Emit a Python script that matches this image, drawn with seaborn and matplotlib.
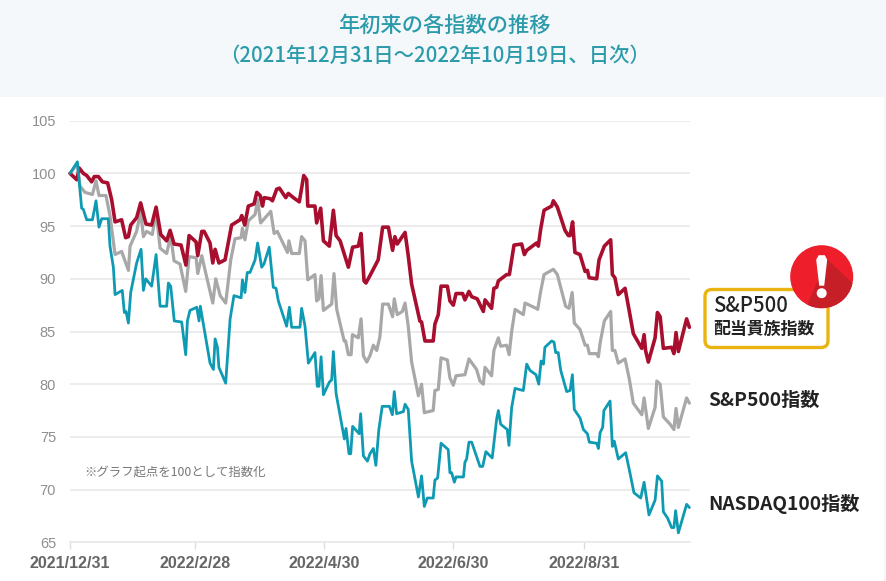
import matplotlib
matplotlib.use("Agg")
import matplotlib.pyplot as plt
import pandas as pd
import seaborn as sns
from matplotlib.patches import Circle, FancyBboxPatch, Polygon, Rectangle
from matplotlib.transforms import IdentityTransform

# calendar days since 2021/12/31, index values
red_days = [0,3.2,4.4,6.3,7.9,10.2,11.5,13.4,15.3,17.8,19.7,21.3,24.4,26.3,27.6,28.7,31.5,33.4,35.9,38.6,40.7,42.9,45.7,47.3,49.2,52.5,54.8,56.3,59.6,60.4,62.3,63.4,66.2,67.5,68.6,70.4,73.3,76.4,80.4,81.2,82.6,84.3,87,88.3,89.9,91,91.8,94.6,95.7,97.7,99,102,103.2,105.6,108.4,110.5,111.9,112.4,115.8,116.6,118.5,119.8,122.6,124.5,125.8,127.7,131.6,133.6,136.3,137.6,139,139.9,141.8,145.7,147.8,150.5,152.5,153.6,154.7,158.4,159.9,161.5,165.4,166.2,167.8,171.7,172.5,174.1,175.4,178.4,179.6,181.2,182.5,185.6,186.7,188.6,189.9,192.5,195.4,196.2,199.3,200.4,201.7,202.5,206.4,207.7,209.9,213.5,214.8,215.9,220.6,221.4,222.5,224.1,227.7,228.5,230.4,234,235.6,236.4,237.6,238.7,241.1,243.5,244.6,245.4,249,250.1,252.6,255.6,256.4,257.6,259.2,262.4,264.7,266.3,270.3,271.4,272.1,273.4,276.6,277.7,279,280.5,284.4,285.5,286.5,287.6,291.5,292.8]
red_vals = [100,99.4,100.5,100,99.8,99.2,99.7,99.7,99.2,99.1,97.5,95.4,95.6,93.9,94,95.1,95.8,97.2,95.2,95.1,96.8,94.2,93.6,94.6,93.3,93.2,91.3,94.1,93.5,92.2,94.5,94.5,93.4,91.5,92.8,91.5,91.8,95.1,95.6,96,95.1,96.9,97.1,98.2,97.9,96.9,97.7,97.6,97.4,98.5,98.6,97.7,98.1,97.7,97.3,99.8,99.4,96.9,96.9,95.3,96.7,93.6,93.1,96.5,94.1,93.6,91.1,93,93.1,94.3,89.8,89.6,90.3,91.8,94.9,94.9,92.7,94,93.3,94.4,92.2,89.5,86,85.9,84.1,84.1,85.7,86.6,89.3,89.3,87.9,87.5,88.6,88.6,88,88.8,88.3,88.1,86.9,88,87.2,89.1,89.2,89.8,90.4,90.4,93.2,93.3,92.3,92.7,93.4,93.1,94.7,96.5,96.9,97.4,96.8,94.6,94.1,94.1,95.4,92.5,92.3,90.7,90.8,90.1,90,91.8,93.1,93.7,90.4,90.1,88.5,89.1,86.6,84.8,83.4,84.7,83.2,82.1,84.4,86.8,86.4,83.4,83.5,82.9,84.9,83.1,86.2,85.4]

gray_days = [0,3.5,4.7,7.1,10.6,12.3,13.7,17,18.9,21.3,24.4,27.6,28.4,31.5,33.4,34.7,36.2,38.9,40.7,42.6,45.7,47.6,49.2,52,54.7,56.3,59.6,60.4,62.3,64.1,67.5,68.9,71,73.6,76,78,80.9,81.5,82.7,84.3,87.5,88.7,90.1,94.9,96.5,98,102.8,103.5,104.8,108.4,109.5,111.1,112.4,115.8,116.6,117.7,118.7,119.8,123.7,124.8,126.1,129.6,130.3,131.6,132.9,133.5,136.3,137.6,138.7,140.3,141.8,143.4,145,146.5,147.8,150.5,152.5,153.3,154.7,157.1,158.4,159.9,161.5,164.7,166.2,167.5,171.7,172.5,174.1,175.4,178.4,179.6,181.2,182.5,186.7,188.6,192.2,193.8,195.4,196.2,199.3,200.4,202.5,203.6,206.4,207.6,208.8,210.4,214.3,215.1,220.3,221.1,222.5,224.1,228.5,230.4,234.3,235.9,237.4,238.4,241.1,243.5,244.6,245.5,249,249.8,250.6,252.6,255.6,256.4,257.6,259.2,262.4,264.4,266.3,270.3,271.4,273.4,276.6,277.4,279,280.5,283.7,285.5,286.5,287.6,291.5,292.8]
gray_vals = [100,100.9,98.8,98.2,98,99.3,97.9,97.9,96,92.3,92.6,90.8,93.1,94.5,96.4,94,94.5,94.2,96.4,92.9,92.4,94.1,91.7,91.4,88.8,92.1,92,90.5,92.2,90.6,87.7,90,88.4,87.7,91.8,93.8,93.9,94.8,93.7,95.5,96.1,97.5,95.3,96.4,94.3,94.5,92.5,93.6,92.4,92.4,94,93.6,89.9,90.4,87.9,88.1,90.3,87,87.6,90.5,87.1,84.1,84.1,82.8,82.8,84.7,84.4,86.2,82.7,82.1,82.7,83.7,83.2,84.5,87.6,87.6,86.4,88.1,86.6,86.9,87.7,85.5,82.1,78.9,80,77.3,77.5,79.4,79.5,82.5,82.3,80.6,79.9,80.8,80.9,82.4,81.4,80.3,80,81.6,80.8,83.2,84.4,83.6,83.7,82.8,85,87.1,86.6,87.7,87.2,87.1,88.8,90.4,90.9,90.4,87.4,87.2,88.7,85.8,85.2,83.7,83.7,82.9,82.9,82.6,83.9,86,86.9,83.2,83.2,82,82.4,80.5,78.2,77.1,78.7,75.8,77.8,80.3,80,76.9,76.2,75.7,77.7,75.9,78.7,78.2]

teal_days = [0,3.5,5.5,6.3,7.9,10.6,12.3,13.7,15,18.1,18.9,20.5,21.3,24.7,25.7,26.5,27.6,28.7,31.5,33.6,34.7,35.8,38.6,40.7,42.6,45.7,46.5,47.6,49.3,52.8,54.7,55.5,56.7,59.9,61,61.6,66.2,67.8,68.6,69.7,70.4,73.6,75.7,77.5,80.9,81.5,82.7,83.8,85.1,87.5,88.7,90.6,91.7,94.2,96.1,97.4,98.5,102.4,103.7,104.8,108.7,109.5,111.1,112.7,115.8,116.9,117.7,118.7,119.8,122.6,123.7,124.5,125.8,129.7,130.5,131.9,132.7,133.6,136.7,137.4,138.7,140.6,141.8,143.4,144.6,146,147.6,151,152.4,153.3,154.4,157.6,158.4,159.9,161.5,164.7,166.2,167.5,168.9,171.7,172.5,173.8,175.4,178.8,179.6,180.4,181.7,182.5,186,186.7,187.5,188.6,189.9,193.8,195.1,196.6,199.6,201.7,202.5,203.6,206.7,207.5,208.8,210.4,214.3,215.9,217.5,220.3,221.6,222.7,223.8,224.5,227.7,228.8,229.6,230.8,232,234.8,236.4,237.5,238.4,241.1,242.7,244.6,245.5,249,249.8,250.6,251.8,252.4,255.3,256.4,257.3,259.2,262.7,264.7,266.6,269.8,271.4,273.7,276.6,277.7,279.7,280.5,282.5,284.4,285.5,286.3,287.6,291.5,292.8]
teal_vals = [100,101.1,96.7,96.6,95.6,95.6,97.4,94.9,95.7,95.7,93.1,91.1,88.5,88.9,86.8,86.9,85.8,88.7,91.5,92.8,88.9,90,89.3,92.3,87.4,87.4,89.6,89.3,86,85.9,82.8,86,87,87.3,86,87.4,82,81.4,84.3,83.5,81.6,80.1,86.2,88.4,88.2,89.9,88.7,90.6,90.6,91.8,93.4,91.1,91.4,93,89.2,89.1,87.9,85.5,87.3,85.4,85.4,87.2,85.5,82,83,79.8,79.8,82.6,79,80.2,80.4,83.1,79.1,74.8,75.8,73.4,73.4,76,75.3,77.2,73.2,72.7,73.4,73.9,72.3,75.7,77.9,77.9,77.1,79.3,77.2,77.4,78.1,77.6,72.7,69.3,71.3,68.4,69.2,69.2,70.9,71.1,74.4,73.8,71.6,71.6,70.7,71.2,71.2,72.6,72.9,74.5,74.5,72.2,72.2,73.6,73,76.7,77.5,76.2,75.7,74.2,77.8,79.6,79.4,81.9,81.3,80.9,80,82.2,81.9,83.5,84.1,84,83,83,81.3,79.3,79.4,80.9,77.6,76.8,75.7,75.3,74.5,74.4,73.9,75.4,75.9,77.5,78.4,74.1,74.6,72.9,73.5,71.6,69.7,69.2,70.7,67.6,69,71.3,70.8,67.9,67.3,66.4,66.4,68,65.9,68.6,68.3]

tick_days = [0, 59, 120, 181, 243]
tick_labels = ["2021/12/31", "2022/2/28", "2022/4/30", "2022/6/30", "2022/8/31"]
y_ticks = [65, 70, 75, 80, 85, 90, 95, 100, 105]
title_lines = ["年初来の各指数の推移", "（2021年12月31日～2022年10月19日、日次）"]
note = "※グラフ起点を100として指数化"
series_names = ["S&P500指数", "S&P500配当貴族指数", "NASDAQ100指数"]

W, H = 886, 581
sns.set_theme(style="white")
plt.rcParams["font.family"] = ["Noto Sans CJK JP", "DejaVu Sans"]
fig = plt.figure(figsize=(W / 100, H / 100), dpi=100, facecolor="white")
ax = fig.add_axes([70 / W, 1 - 542.3 / H, 620 / W, 421.6 / H])

df = pd.concat([
    pd.DataFrame({"day": gray_days, "value": gray_vals, "series": series_names[0]}),
    pd.DataFrame({"day": red_days, "value": red_vals, "series": series_names[1]}),
    pd.DataFrame({"day": teal_days, "value": teal_vals, "series": series_names[2]}),
])
palette = {series_names[2]: "#0f9ab4", series_names[0]: "#a8a8a8", series_names[1]: "#a80f2e"}
widths = {series_names[2]: 2.0, series_names[0]: 2.3, series_names[1]: 2.6}

ax.set_axisbelow(True)
ax.grid(axis="y", color="#e9e9e9", lw=1.2)
for name in series_names:
    sns.lineplot(data=df[df.series == name], x="day", y="value", color=palette[name],
                 lw=widths[name], ax=ax, estimator=None, sort=False, legend=False,
                 solid_joinstyle="round", clip_on=False)

ax.set_xlim(0, 293.1)
ax.set_ylim(65, 105)
ax.set_xlabel("")
ax.set_ylabel("")
ax.set_yticks(y_ticks)
ax.set_xticks(tick_days)
ax.set_xticklabels(tick_labels, fontsize=11.5, fontweight="bold", color="#666666",
                   family=["Liberation Sans", "DejaVu Sans"])
ax.tick_params(axis="x", length=5, color="#dddddd", width=1, pad=5, bottom=True)
ax.tick_params(axis="y", length=0, pad=10, labelsize=10.5, labelcolor="#8f8f8f")
for lab in ax.get_yticklabels():
    lab.set_family(["Liberation Sans", "DejaVu Sans"])
for s in ["top", "left", "right"]:
    ax.spines[s].set_visible(False)
ax.spines["bottom"].set_color("#e9e9e9")
ax.spines["bottom"].set_linewidth(1.2)

px = IdentityTransform()
fig.add_artist(Rectangle((0, H - 97), W, 97, transform=px, fc="#f4f8fb", ec="none", zorder=0))
fig.add_artist(Rectangle((884, 0), 2, H, transform=px, fc="#f4f8fb", ec="none", zorder=0))

def ftext(x, y, s, **kw):
    fig.text(x / W, 1 - y / H, s, **kw)

ftext(444, 26, title_lines[0], ha="center", va="center", fontsize=15.3, color="#2b9bab", fontweight="medium")
ftext(435, 56, title_lines[1], ha="center", va="center", fontsize=14.7, color="#2b9bab", fontweight="medium")
ftext(84, 472, note, ha="left", va="center", fontsize=8.9, color="#777777")

# call-out box
fig.add_artist(FancyBboxPatch((705, H - 347.5), 123, 58, boxstyle="round,pad=0,rounding_size=7",
                              transform=px, fc="white", ec="#e9b40f", lw=2.4, zorder=5))
ftext(713, 306, "S&P500", ha="left", va="center", fontsize=14.6, color="#222222", fontweight="medium", zorder=6)
ftext(713, 329, "配当貴族指数", ha="left", va="center", fontsize=12.2, color="#222222", fontweight="bold", zorder=6)
ftext(708, 400, "S&P500指数", ha="left", va="center", fontsize=13.8, color="#222222", fontweight="bold")
ftext(708, 504, "NASDAQ100指数", ha="left", va="center", fontsize=13.8, color="#222222", fontweight="bold")

# alert badge
cx, cy, r = 821.7, H - 276.7, 31.5
fig.add_artist(Circle((cx, cy), r, transform=px, fc="#ee1f2b", ec="none", zorder=7))
shade = Polygon([(cx + 5, cy + 18), (cx + 40, cy - 15), (cx + 5, cy - 50), (cx - 15, cy - 30)],
                closed=True, transform=px, fc="#c71f27", ec="none", zorder=8)
fig.add_artist(shade)
shade.set_clip_path(Circle((cx, cy), r, transform=px))
fig.add_artist(Polygon([(cx - 5.5, cy + 17), (cx - 3, cy + 21.5), (cx + 3, cy + 21.5), (cx + 5.5, cy + 17),
                        (cx + 2.5, cy - 9), (cx - 2.5, cy - 9)],
                       closed=True, transform=px, fc="white", ec="none", zorder=9))
fig.add_artist(Circle((cx, cy - 16.5), 5, transform=px, fc="white", ec="none", zorder=9))

fig.savefig("out.png", dpi=100)
